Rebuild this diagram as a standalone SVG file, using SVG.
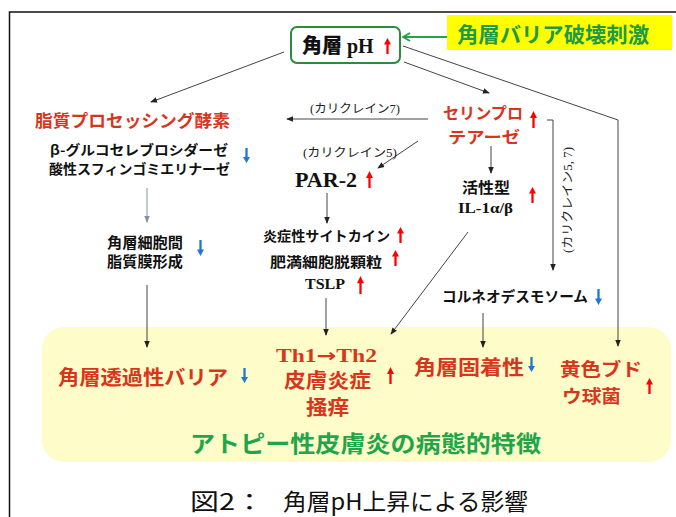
<svg xmlns="http://www.w3.org/2000/svg" width="676" height="517" viewBox="0 0 676 517">
<style>
.jp{font-family:"Noto Sans CJK JP","Noto Sans",sans-serif;font-weight:700}
.jn{font-family:"Noto Sans CJK JP","Noto Sans",sans-serif;font-weight:400}
.se{font-family:"Liberation Serif","Noto Sans CJK JP",serif;font-weight:700}
.red{fill:#D8361C}
.blk{fill:#111}
.grn{fill:#1FA64A}
.lbl{font-family:"Liberation Serif","Noto Sans CJK JP",serif;font-size:12px;fill:#222}
.c{fill:none;stroke:#444;stroke-width:1}
.ua{fill:#F00}
.da{fill:#1F77D0}
</style>
<defs>
<marker id="ah" viewBox="0 0 8 8" refX="7" refY="4" markerWidth="7" markerHeight="7" markerUnits="userSpaceOnUse" orient="auto">
<path d="M0 0.8 L8 4 L0 7.2 Z" fill="#222"/>
</marker>
<marker id="ahl" viewBox="0 0 8 8" refX="7" refY="4" markerWidth="7" markerHeight="7" markerUnits="userSpaceOnUse" orient="auto">
<path d="M0 0.8 L8 4 L0 7.2 Z" fill="#8890A8"/>
</marker>
<marker id="ahg" viewBox="0 0 10 10" refX="9" refY="5" markerWidth="10" markerHeight="10" markerUnits="userSpaceOnUse" orient="auto">
<path d="M2 1 L9 5 L2 9" fill="none" stroke="#1FA64A" stroke-width="2"/>
</marker>
<symbol id="up" viewBox="0 0 8 16" preserveAspectRatio="none">
<path d="M4 0 L8 6.5 L5.3 6.5 L5.3 16 L2.7 16 L2.7 6.5 L0 6.5 Z"/>
</symbol>
<symbol id="dn" viewBox="0 0 8 16" preserveAspectRatio="none">
<path d="M4 16 L8 9.5 L5.3 9.5 L5.3 0 L2.7 0 L2.7 9.5 L0 9.5 Z"/>
</symbol>
</defs>
<rect width="676" height="517" fill="#fff"/>
<path d="M9.5 517 V12 H676" fill="none" stroke="#111" stroke-width="1.5"/>
<rect id="bottom-panel" x="42" y="327" width="629" height="135" rx="22" fill="#FEFCC9"/>

<g id="connectors">
<line class="c" x1="284" y1="52" x2="151" y2="102" marker-end="url(#ah)"/>
<line class="c" x1="404" y1="62" x2="489" y2="93" marker-end="url(#ah)"/>
<polyline class="c" points="403,46 618,120 618,346" marker-end="url(#ah)"/>
<line x1="447" y1="37" x2="403" y2="37" stroke="#1FA64A" stroke-width="1.8" marker-end="url(#ahg)"/>
<line class="c" x1="428" y1="119" x2="287" y2="119" marker-end="url(#ah)"/>
<line class="c" x1="418" y1="141" x2="378" y2="168" marker-end="url(#ah)"/>
<line class="c" x1="491" y1="146" x2="491" y2="173" marker-end="url(#ah)"/>
<polyline class="c" points="547,120 553,120 553,270" marker-end="url(#ah)"/>
<line x1="147" y1="188" x2="147" y2="222" stroke="#8890A8" stroke-width="1" marker-end="url(#ahl)"/>
<line class="c" x1="147" y1="285" x2="147" y2="347" marker-end="url(#ah)"/>
<line class="c" x1="327" y1="193" x2="327" y2="223" marker-end="url(#ah)"/>
<line class="c" x1="326" y1="298" x2="326" y2="335" marker-end="url(#ah)"/>
<line class="c" x1="468" y1="232" x2="391" y2="334" marker-end="url(#ah)"/>
<line class="c" x1="483" y1="313" x2="483" y2="347" marker-end="url(#ah)"/>
<text class="lbl" x="355" y="113" text-anchor="middle" textLength="90" lengthAdjust="spacingAndGlyphs">(カリクレイン7)</text>
<text class="lbl" x="350" y="157" text-anchor="middle" textLength="94" lengthAdjust="spacingAndGlyphs">(カリクレイン5)</text>
<text class="lbl" font-size="12.5" transform="translate(572 200) rotate(-90)" text-anchor="middle" textLength="106" lengthAdjust="spacingAndGlyphs">(カリクレイン5, 7)</text>
</g>

<g id="ph">
<rect x="291" y="27" width="109" height="36" rx="6" fill="#fff" stroke="#2E8B3A" stroke-width="2"/>
<text x="302" y="53" class="se blk" font-size="20"><tspan font-family="Noto Sans CJK JP,sans-serif" font-weight="900">角層</tspan> pH</text>
<use href="#up" class="ua" x="384" y="38" width="7" height="16"/>
</g>

<g id="stimulus">
<rect x="447" y="15" width="225" height="35" fill="#FFFF00"/>
<text x="457" y="42" class="jp" fill="#1E9A48" font-size="21" textLength="192" lengthAdjust="spacingAndGlyphs">角層バリア破壊刺激</text>
</g>

<g id="lipid-enzyme">
<text x="35" y="127" class="jp red" font-size="17.5" textLength="195" lengthAdjust="spacingAndGlyphs">脂質プロセッシング酵素</text>
<text class="jp blk" font-size="13.5"><tspan x="50" y="155" textLength="178" lengthAdjust="spacingAndGlyphs">β-グルコセレブロシダーゼ</tspan><tspan x="49" y="174" textLength="181" lengthAdjust="spacingAndGlyphs">酸性スフィンゴミエリナーゼ</tspan></text>
<use href="#dn" class="da" x="243" y="148" width="7" height="15"/>
</g>

<g id="lipid-membrane">
<text class="jp blk" font-size="15"><tspan x="107" y="248" textLength="76" lengthAdjust="spacingAndGlyphs">角層細胞間</tspan><tspan x="107" y="267" textLength="76" lengthAdjust="spacingAndGlyphs">脂質膜形成</tspan></text>
<use href="#dn" class="da" x="197" y="240" width="7" height="16"/>
</g>

<g id="serine-protease">
<text class="jp red" font-size="16"><tspan x="443" y="119" textLength="80" lengthAdjust="spacingAndGlyphs">セリンプロ</tspan><tspan x="448" y="143" textLength="72" lengthAdjust="spacingAndGlyphs">テアーゼ</tspan></text>
<use href="#up" class="ua" x="530" y="111" width="7" height="17"/>
</g>

<g id="par2">
<text x="295" y="187" class="se blk" font-size="20" textLength="62" lengthAdjust="spacingAndGlyphs">PAR-2</text>
<use href="#up" class="ua" x="366" y="171" width="7" height="17"/>
</g>

<g id="cytokine">
<text class="jp blk" font-size="14"><tspan x="263" y="241" textLength="127" lengthAdjust="spacingAndGlyphs">炎症性サイトカイン</tspan><tspan x="270" y="267" textLength="112" lengthAdjust="spacingAndGlyphs">肥満細胞脱顆粒</tspan></text>
<use href="#up" class="ua" x="397" y="227" width="7" height="16"/>
<use href="#up" class="ua" x="392" y="250" width="7" height="16"/>
<text x="305" y="289" class="se blk" font-size="14.5" textLength="40" lengthAdjust="spacingAndGlyphs">TSLP</text>
<use href="#up" class="ua" x="357" y="276" width="7" height="18"/>
</g>

<g id="il1">
<text x="462" y="193" class="jp blk" font-size="15" textLength="48" lengthAdjust="spacingAndGlyphs">活性型</text>
<text x="458" y="213" class="se blk" font-size="14.5" textLength="55" lengthAdjust="spacingAndGlyphs">IL-1α/β</text>
<use href="#up" class="ua" x="529" y="187" width="7" height="16"/>
</g>

<g id="corneodesmosome">
<text x="442" y="302" class="jp blk" font-size="14.5" textLength="146" lengthAdjust="spacingAndGlyphs">コルネオデスモソーム</text>
<use href="#dn" class="da" x="595" y="289" width="7" height="16"/>
</g>

<g id="barrier">
<text x="58" y="385" class="jp red" font-size="20" textLength="170" lengthAdjust="spacingAndGlyphs">角層透過性バリア</text>
<use href="#dn" class="da" x="241" y="368" width="7" height="15"/>
</g>

<g id="th2">
<text class="red" font-size="20"><tspan x="276" y="362" class="se" font-size="18" textLength="101" lengthAdjust="spacingAndGlyphs">Th1<tspan font-family="DejaVu Sans,sans-serif" font-weight="700">→</tspan>Th2</tspan><tspan x="284" y="388" class="jp" textLength="87" lengthAdjust="spacingAndGlyphs">皮膚炎症</tspan><tspan x="306" y="415" class="jp" textLength="43" lengthAdjust="spacingAndGlyphs">掻痒</tspan></text>
<use href="#up" class="ua" x="387" y="367" width="7" height="17"/>
</g>

<g id="adhesion">
<text x="414" y="375" class="jp red" font-size="20" textLength="110" lengthAdjust="spacingAndGlyphs">角層固着性</text>
<use href="#dn" class="da" x="528" y="357" width="7" height="15"/>
</g>

<g id="staph">
<text class="jp red" font-size="18"><tspan x="560" y="376" textLength="82" lengthAdjust="spacingAndGlyphs">黄色ブド</tspan><tspan x="562" y="403" textLength="59" lengthAdjust="spacingAndGlyphs">ウ球菌</tspan></text>
<use href="#up" class="ua" x="646" y="378" width="7" height="16"/>
</g>

<text x="190" y="452" class="jp grn" font-size="23" textLength="351" lengthAdjust="spacingAndGlyphs">アトピー性皮膚炎の病態的特徴</text>
<text class="jn blk" font-size="23"><tspan x="190" y="510" textLength="74" lengthAdjust="spacingAndGlyphs">図2：</tspan><tspan x="283" y="510" textLength="245" lengthAdjust="spacingAndGlyphs">角層pH上昇による影響</tspan></text>
</svg>
